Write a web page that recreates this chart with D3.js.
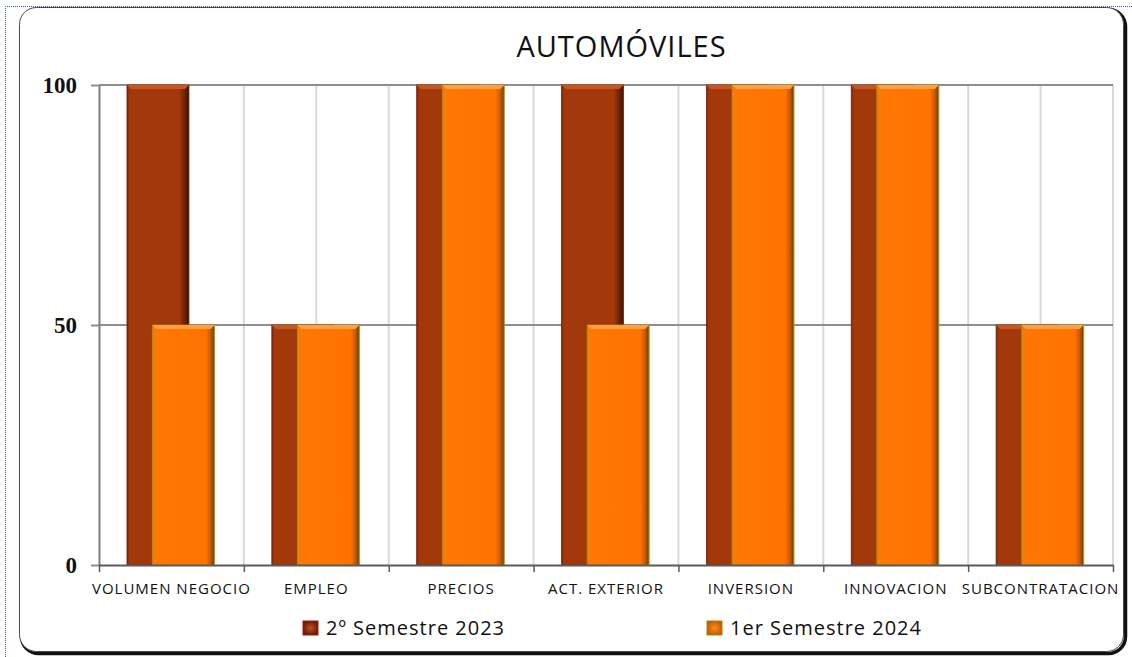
<!DOCTYPE html>
<html>
<head>
<meta charset="utf-8">
<script src="https://cdn.jsdelivr.net/npm/d3@7"></script>
<style>
  html, body { margin: 0; padding: 0; background: #ffffff; }
  svg { display: block; }
</style>
</head>
<body>
<svg id="chart" width="1132" height="657"></svg>
<script>
// Categories and series values (percent of responses)
const categories = ["VOLUMEN NEGOCIO", "EMPLEO", "PRECIOS", "ACT. EXTERIOR", "INVERSION", "INNOVACION", "SUBCONTRATACION"];
const seriesNames = ["2º Semestre 2023", "1er Semestre 2024"];
const semestre2023 = [100, 50, 100, 100, 100, 100, 50];
const semestre2024 = [50, 50, 100, 50, 100, 100, 50];
const yTicks = [0, 50, 100];
const chartTitle = "AUTOMÓVILES";

const W = 1132, H = 657;
const plot = { left: 99, right: 1113, top: 85, bottom: 565 };

const svg = d3.select("#chart");
const defs = svg.append("defs");

// Bevelled bar fills: horizontal shading plus a lighter top facet
function barGradient(id, stops) {
  const g = defs.append("linearGradient").attr("id", id)
    .attr("x1", "0%").attr("x2", "100%").attr("y1", "0%").attr("y2", "0%");
  stops.forEach(s => g.append("stop").attr("offset", s[0]).attr("stop-color", s[1]));
}
barGradient("gDark", [["0%", "#7e1e0c"], ["4%", "#a3390a"], ["84%", "#a3390a"], ["92%", "#74250a"], ["100%", "#3c1204"]]);
barGradient("gOrange", [["0%", "#c9920a"], ["4%", "#ff7705"], ["86%", "#ff7302"], ["93%", "#cf5a02"], ["98%", "#7a4a0a"], ["100%", "#8c7a2a"]]);

function markerGradient(id, inner, outer) {
  const g = defs.append("radialGradient").attr("id", id);
  g.append("stop").attr("offset", "0%").attr("stop-color", inner);
  g.append("stop").attr("offset", "100%").attr("stop-color", outer);
}
markerGradient("mDark", "#c0521c", "#6e1c06");
markerGradient("mOrange", "#ff8a1a", "#c06000");

// Page frame: dotted outline and rounded chart area with a drop shadow
svg.append("path")
  .attr("d", `M5.5,657 L5.5,6.5 L${W},6.5`)
  .attr("fill", "none").attr("stroke", "#3d5f98").attr("stroke-width", 1)
  .attr("stroke-dasharray", "1,1");

svg.append("rect")
  .attr("x", 21.5).attr("y", 9.5).attr("width", 1104).attr("height", 644)
  .attr("rx", 17).attr("fill", "none").attr("stroke", "#111").attr("stroke-width", 3.5);
svg.append("rect")
  .attr("x", 19.5).attr("y", 7.5).attr("width", 1104).attr("height", 644)
  .attr("rx", 17).attr("fill", "#ffffff").attr("stroke", "#4a4a4a").attr("stroke-width", 1);

// Scales
const x = d3.scaleBand().domain(categories).range([plot.left, plot.right]).paddingInner(0).paddingOuter(0);
const xEdge = d3.scaleLinear().domain([0, categories.length]).range([plot.left, plot.right]);
const y = d3.scaleLinear().domain([0, 100]).range([plot.bottom, plot.top]);
const bw = x.bandwidth();

// Vertical gridlines at every half category
const halfSteps = d3.range(1, categories.length * 2 + 1).map(i => i / 2);
svg.append("g").selectAll("line").data(halfSteps).join("line")
  .attr("x1", d => xEdge(d)).attr("x2", d => xEdge(d))
  .attr("y1", plot.top).attr("y2", plot.bottom)
  .attr("stroke", "#d9d9d9").attr("stroke-width", 2);

// Horizontal gridlines
svg.append("g").selectAll("line").data(yTicks.filter(t => t > 0)).join("line")
  .attr("x1", plot.left).attr("x2", plot.right)
  .attr("y1", d => y(d)).attr("y2", d => y(d))
  .attr("stroke", "#8e8e8e").attr("stroke-width", 2);

// Bars
const series = [
  { name: seriesNames[0], values: semestre2023, offset: 0.193, fill: "url(#gDark)", top: "#c9561f", edge: "#7a2410" },
  { name: seriesNames[1], values: semestre2024, offset: 0.37, fill: "url(#gOrange)", top: "#ff9e45", edge: "#b88a10" }
];
const barW = bw * 0.428;
const bev = 4;

series.forEach(s => {
  const g = svg.append("g");
  const data = categories.map((c, i) => ({ c, v: s.values[i] }));
  const bar = g.selectAll("g").data(data).join("g");
  bar.append("rect")
    .attr("x", d => x(d.c) + bw * s.offset)
    .attr("y", d => y(d.v))
    .attr("width", barW)
    .attr("height", d => y(0) - y(d.v))
    .attr("fill", s.fill)
    .attr("stroke", s.edge).attr("stroke-width", 0.8);
  bar.append("path")
    .attr("d", d => {
      const x0 = x(d.c) + bw * s.offset, y0 = y(d.v);
      return `M${x0},${y0} L${x0 + barW},${y0} L${x0 + barW - bev},${y0 + bev} L${x0 + bev},${y0 + bev} Z`;
    })
    .attr("fill", s.top);
});

// Left axis
const yAxis = svg.append("g")
  .attr("transform", `translate(${plot.left},0)`)
  .call(d3.axisLeft(y).tickValues(yTicks).tickSizeInner(8).tickSizeOuter(0).tickPadding(14));
yAxis.select(".domain").attr("stroke", "#808080").attr("stroke-width", 2);
yAxis.selectAll(".tick line").attr("stroke", "#8e8e8e").attr("stroke-width", 2);
yAxis.selectAll(".tick text")
  .attr("font-family", "'Liberation Serif', 'DejaVu Serif', serif")
  .attr("font-weight", "bold").attr("font-size", 23).attr("fill", "#111");

// Bottom axis: tick marks at category edges, labels at category centers
const xTicks = svg.append("g")
  .attr("transform", `translate(0,${plot.bottom})`)
  .call(d3.axisBottom(xEdge).ticks(categories.length).tickFormat("").tickSizeInner(7).tickSizeOuter(0));
xTicks.select(".domain").attr("stroke", "#5a5a5a").attr("stroke-width", 2);
xTicks.selectAll(".tick line").attr("stroke", "#5a5a5a").attr("stroke-width", 1.5);

const xLabels = svg.append("g")
  .attr("transform", `translate(0,${plot.bottom})`)
  .call(d3.axisBottom(x).tickSize(0).tickPadding(18));
xLabels.select(".domain").remove();
xLabels.selectAll(".tick text")
  .attr("font-family", "'Open Sans', sans-serif")
  .attr("font-size", 15).attr("letter-spacing", 1).attr("fill", "#111");

// Title
svg.append("text")
  .attr("x", 621.5).attr("y", 57)
  .attr("text-anchor", "middle")
  .attr("font-family", "'Open Sans', sans-serif")
  .attr("font-size", 29).attr("letter-spacing", 1).attr("fill", "#111")
  .text(chartTitle);

// Legend
const legendItems = [
  { name: seriesNames[0], x: 303, fill: "url(#mDark)", edge: "#8a2010" },
  { name: seriesNames[1], x: 707, fill: "url(#mOrange)", edge: "#b07a10" }
];
const lg = svg.append("g").selectAll("g").data(legendItems).join("g");
lg.append("rect")
  .attr("x", d => d.x).attr("y", 621).attr("width", 15).attr("height", 14)
  .attr("fill", d => d.fill).attr("stroke", d => d.edge).attr("stroke-width", 1);
lg.append("text")
  .attr("x", d => d.x + 23).attr("y", 634.5)
  .attr("font-family", "'Open Sans', sans-serif")
  .attr("font-size", 20).attr("letter-spacing", 1).attr("fill", "#111")
  .text(d => d.name);
</script>
</body>
</html>
